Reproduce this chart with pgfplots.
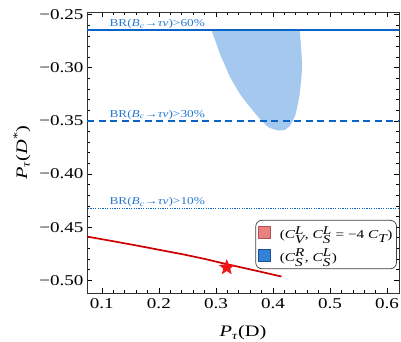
\documentclass[border=0pt]{standalone}
\usepackage{fontspec}
\setmainfont[FakeStretch=1.27]{Liberation Serif}
\usepackage{pgfplots}
\pgfplotsset{compat=1.18}
\definecolor{lineblue}{RGB}{10,100,200}
\definecolor{labelblue}{RGB}{40,120,210}
\definecolor{fillblue}{RGB}{165,200,238}
\definecolor{legpink}{RGB}{232,128,128}
\definecolor{legpinkd}{RGB}{180,80,80}
\definecolor{legblue}{RGB}{50,130,215}
\definecolor{legblued}{RGB}{30,80,150}
\definecolor{cred}{RGB}{204,0,0}
\definecolor{sred}{RGB}{240,20,20}
\pgfdeclareplotmark{fstar}{%
  \pgfpathmoveto{\pgfqpointpolar{90}{\pgfplotmarksize}}%
  \pgfpathlineto{\pgfqpointpolar{126}{0.42\pgfplotmarksize}}%
  \pgfpathlineto{\pgfqpointpolar{162}{\pgfplotmarksize}}%
  \pgfpathlineto{\pgfqpointpolar{198}{0.42\pgfplotmarksize}}%
  \pgfpathlineto{\pgfqpointpolar{234}{\pgfplotmarksize}}%
  \pgfpathlineto{\pgfqpointpolar{270}{0.42\pgfplotmarksize}}%
  \pgfpathlineto{\pgfqpointpolar{306}{\pgfplotmarksize}}%
  \pgfpathlineto{\pgfqpointpolar{342}{0.42\pgfplotmarksize}}%
  \pgfpathlineto{\pgfqpointpolar{18}{\pgfplotmarksize}}%
  \pgfpathlineto{\pgfqpointpolar{54}{0.42\pgfplotmarksize}}%
  \pgfpathclose
  \pgfusepathqfill
}
\newcommand{\legfont}{\fontsize{12}{15}\selectfont}
\newcommand{\sx}[2]{\textit{C}\ensuremath{^{\textit{#1}}_{\textit{#2}}}}
\begin{document}
\begin{tikzpicture}
\useasboundingbox (-87pt,-49pt) rectangle (314pt,293pt);
\begin{axis}[
  width=312pt, height=281pt, scale only axis,
  xmin=0.074, xmax=0.621, ymin=-0.512, ymax=-0.2475,
  xtick={0.1,0.2,0.3,0.4,0.5,0.6},
  xticklabels={0.1,0.2,0.3,0.4,0.5,0.6},
  ytick={-0.5,-0.45,-0.4,-0.35,-0.3,-0.25},
  yticklabels={−0.50,−0.45,−0.40,−0.35,−0.30,−0.25},
  minor x tick num=4, minor y tick num=4,
  major tick length=5pt, minor tick length=3pt,
  tick style={black, line width=0.6pt},
  axis line style={black!80, line width=0.7pt},
  tick align=inside,
  xticklabel style={font=\fontsize{15}{18}\selectfont, yshift=-2pt},
  yticklabel style={font=\fontsize{15}{18}\selectfont},
  clip=true,
  legend style={at={(0.993,0.085)}, anchor=south east, rounded corners=6pt,
    draw=black!75, line width=0.7pt,
    row sep=5pt, inner xsep=2pt, inner ysep=4pt},
  legend cell align=left,
]
% allowed region
\addplot[fill=fillblue, draw=none, forget plot, smooth, tension=0.3] coordinates {
 (0.292,-0.2645) (0.300,-0.276) (0.307,-0.2869) (0.316,-0.298) (0.325,-0.3089)
 (0.342,-0.3246) (0.360,-0.3371) (0.377,-0.3481) (0.392,-0.3559) (0.409,-0.3590)
 (0.421,-0.3584) (0.430,-0.3543) (0.439,-0.3449) (0.446,-0.3277) (0.450,-0.3089)
 (0.451,-0.2969) (0.450,-0.2869) (0.447,-0.2645)
} -- cycle;
% BR lines
\addplot[lineblue, line width=1.4pt, forget plot] coordinates {(0,-0.2645) (1,-0.2645)};
\addplot[lineblue, line width=1.4pt, dash pattern=on 7pt off 4.5pt, forget plot] coordinates {(0.0745,-0.35) (1,-0.35)};
\addplot[lineblue, line width=1.4pt, dash pattern=on 1.3pt off 1.1pt, forget plot] coordinates {(0,-0.4325) (1,-0.4325)};
% red curve
\addplot[cred, line width=1.7pt, forget plot] coordinates {
 (0.070,-0.4585) (0.114,-0.4627) (0.158,-0.4670) (0.202,-0.4715) (0.246,-0.4760)
 (0.281,-0.4800) (0.316,-0.4845) (0.366,-0.4905) (0.415,-0.4965)};
% star
\addplot[only marks, mark=fstar, mark size=8.5pt, sred, forget plot] coordinates {(0.319,-0.4880)};
\addlegendimage{legend image code/.code={\draw[sharp corners, fill=legpink, draw=legpinkd, line width=0.5pt] (0pt,-5.5pt) rectangle (12.5pt,7pt);}}
\addlegendentry{\legfont\hspace{7pt}(\sx{L}{V}, \sx{L}{S} = −4 \textit{C}\ensuremath{_{\textit{T}}})}
\addlegendimage{legend image code/.code={\draw[sharp corners, fill=legblue, draw=legblued, line width=0.5pt] (0pt,-5.5pt) rectangle (12.5pt,7pt);}}
\addlegendentry{\legfont\hspace{7pt}(\sx{R}{S}, \sx{L}{S})}
\node[anchor=south west, inner sep=1.2pt, text=labelblue, font=\fontsize{10.5}{12}\selectfont] at (axis cs:0.111,-0.2645) {BR(\textit{B}\textsubscript{\textit{c}}→\textit{τν})>60\%};
\node[anchor=south west, inner sep=1.2pt, text=labelblue, font=\fontsize{10.5}{12}\selectfont] at (axis cs:0.111,-0.35) {BR(\textit{B}\textsubscript{\textit{c}}→\textit{τν})>30\%};
\node[anchor=south west, inner sep=1.2pt, text=labelblue, font=\fontsize{10.5}{12}\selectfont] at (axis cs:0.111,-0.4325) {BR(\textit{B}\textsubscript{\textit{c}}→\textit{τν})>10\%};
\end{axis}
\node[rotate=90, font=\fontsize{16}{19}\selectfont] at (-65pt,140.5pt) {\textit{P}\textsubscript{\textit{τ}}(\textit{D}\textsuperscript{*})};
\node[font=\fontsize{16}{19}\selectfont] at (156pt,-40pt) {\textit{P}\textsubscript{\textit{τ}}(D)};
\end{tikzpicture}
\end{document}
